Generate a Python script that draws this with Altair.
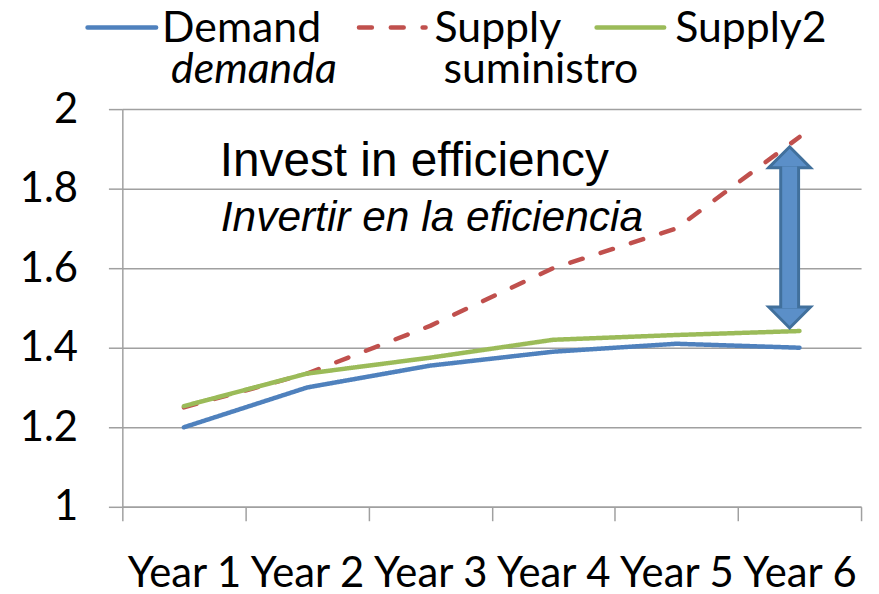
import altair as alt
import pandas as pd

# ---- data ----
years = ["Year 1", "Year 2", "Year 3", "Year 4", "Year 5", "Year 6"]
demand = [1.20, 1.30, 1.355, 1.39, 1.41, 1.40]
supply = [1.25, 1.335, 1.455, 1.60, 1.70, 1.93]
supply2 = [1.253, 1.335, 1.375, 1.42, 1.432, 1.442]
series_names = ["Demand", "Supply", "Supply2"]
series_sub = ["demanda", "suministro", ""]
series_colors = ["#4F81BD", "#C0504D", "#9BBB59"]
y_ticks = [1.0, 1.2, 1.4, 1.6, 1.8, 2.0]
annot_en = "Invest in efficiency"
annot_es = "Invertir en la eficiencia"
# double arrow pieces (value units)
arrow_head_up = [1.879]
arrow_head_down = [1.476]
arrow_shaft = [1.8525, 1.5025]
arrow_shaft_inner = [1.856, 1.499]

W, H = 743, 400
GRAY = "#A0A0A0"
FONT = "Lato"

rows = []
for name, vals in zip(series_names, [demand, supply, supply2]):
    for yr, v in zip(years, vals):
        rows.append({"year": yr, "value": v, "series": name})
df = pd.DataFrame(rows)

xscale = alt.Scale(type="band", domain=years, paddingInner=0, paddingOuter=0)
yscale = alt.Scale(domain=[1, 2], nice=False, zero=False)

x_axis = alt.Axis(title=None, labelAngle=0, labelFont=FONT, labelFontSize=42,
                  labelColor="black", tickBand="extent", tickSize=14,
                  tickColor=GRAY, tickWidth=1.5, domainColor=GRAY,
                  domainWidth=1.5, labelPadding=33, grid=False)
y_axis = alt.Axis(title=None, values=y_ticks, format="~g", labelFont=FONT,
                  labelFontSize=42, labelColor="black", tickSize=14,
                  tickColor=GRAY, tickWidth=1.5, domainColor=GRAY,
                  domainWidth=1.5, grid=True, gridColor=GRAY, gridWidth=1.5,
                  labelPadding=31)

lines = alt.Chart(df).mark_line(strokeWidth=4.5, strokeCap="round", strokeJoin="round").encode(
    x=alt.X("year:N", sort=years, scale=xscale, bandPosition=0.5, axis=x_axis),
    y=alt.Y("value:Q", scale=yscale, axis=y_axis),
    color=alt.Color("series:N", scale=alt.Scale(domain=series_names, range=series_colors), legend=None),
    strokeDash=alt.StrokeDash("series:N", scale=alt.Scale(domain=series_names, range=[[1, 0], [13, 19], [1, 0]]), legend=None),
    detail="series:N",
)

# ---- double arrow ----
ARROW_X = alt.X("year:N", sort=years, scale=xscale, bandPosition=0.42, axis=x_axis)
shaft_df = pd.DataFrame({"year": ["Year 6"], "value": [arrow_shaft[0]], "value2": [arrow_shaft[1]]})
shaft_in_df = pd.DataFrame({"year": ["Year 6"], "value": [arrow_shaft_inner[0]], "value2": [arrow_shaft_inner[1]]})
shaft_outer = alt.Chart(shaft_df).mark_rule(strokeWidth=21, color="#41709C").encode(
    x=ARROW_X, y=alt.Y("value:Q", scale=yscale, axis=y_axis), y2="value2:Q")
shaft_inner = alt.Chart(shaft_in_df).mark_rule(strokeWidth=15, color="#5B8FC8").encode(
    x=ARROW_X, y=alt.Y("value:Q", scale=yscale, axis=y_axis), y2="value2:Q")
head_up = alt.Chart(pd.DataFrame({"year": ["Year 6"], "value": arrow_head_up})).mark_point(
    shape="M-1,0.5L0,-0.5L1,0.5Z", size=1764, filled=True, fill="#5B8FC8",
    stroke="#41709C", strokeWidth=3, opacity=1).encode(
    x=ARROW_X, y=alt.Y("value:Q", scale=yscale, axis=y_axis))
head_down = alt.Chart(pd.DataFrame({"year": ["Year 6"], "value": arrow_head_down})).mark_point(
    shape="M-1,-0.5L0,0.5L1,-0.5Z", size=1764, filled=True, fill="#5B8FC8",
    stroke="#41709C", strokeWidth=3, opacity=1).encode(
    x=ARROW_X, y=alt.Y("value:Q", scale=yscale, axis=y_axis))

one = pd.DataFrame({"k": [0]})

def txt(s, x, y, size, italic=False, font=FONT):
    return alt.Chart(one).mark_text(
        align="left", baseline="alphabetic", font=font, fontSize=size,
        fontStyle="italic" if italic else "normal", color="black").encode(
        x=alt.value(x), y=alt.value(y), text=alt.value(s))

annot = [
    txt(annot_en, 98, 67, 48, font="Liberation Sans"),
    txt(annot_es, 99, 123, 42.7, italic=True, font="Liberation Sans"),
]

# ---- custom legend ----
leg_line_x = [(-35, 34), (238, 305), (477, 545)]
leg_text_x = [40, 314, 556]
legend_layers = []
for i, name in enumerate(series_names):
    x0, x1 = leg_line_x[i]
    dash = [13, 19] if name == "Supply" else [1, 0]
    legend_layers.append(
        alt.Chart(one).mark_rule(strokeWidth=4.5, strokeCap="round", color=series_colors[i], strokeDash=dash).encode(
            x=alt.value(x0), x2=alt.value(x1), y=alt.value(-82)))
    legend_layers.append(txt(name, leg_text_x[i], -67, 43))
    if series_sub[i]:
        legend_layers.append(txt(series_sub[i], leg_text_x[i] + 9, -26, 43, italic=(name == "Demand")))

chart = alt.layer(
    lines, shaft_outer, head_up, head_down, shaft_inner, *annot, *legend_layers
).properties(
    width=W, height=H,
    background="white",
    autosize=alt.AutoSizeParams(type="none"),
    padding={"left": 115, "top": 100, "right": 10, "bottom": 86},
).configure_view(stroke=None)

chart.save("out.html", embed_options={"renderer": "svg", "actions": False})
